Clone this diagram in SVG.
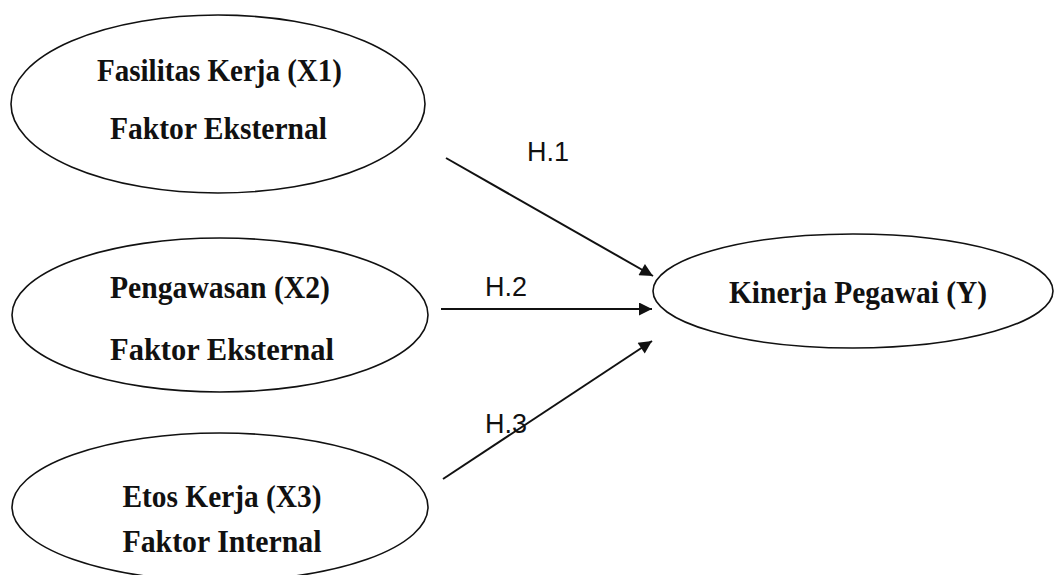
<svg xmlns="http://www.w3.org/2000/svg" width="1054" height="575" viewBox="0 0 1054 575">
<style>
.node ellipse{fill:none;stroke:#111;stroke-width:1.6}
.t{font-family:"Liberation Serif","Times New Roman",serif;font-weight:bold;font-size:31px;fill:#111;text-anchor:middle}
.h{font-family:"Liberation Sans",Arial,sans-serif;font-size:27px;fill:#111}
.edge{stroke:#111;stroke-width:2;fill:none;marker-end:url(#arr)}
</style>
<defs>
<marker id="arr" viewBox="0 0 10 10" refX="10" refY="5" markerWidth="8" markerHeight="6.5" markerUnits="strokeWidth" orient="auto">
<path d="M0,0 L10,5 L0,10 Z" fill="#111"/>
</marker>
</defs>
<rect width="1054" height="575" fill="#fff"/>
<g id="x1" class="node">
<ellipse cx="218" cy="104" rx="207" ry="89"/>
<text class="t" x="219.5" y="81" textLength="245" lengthAdjust="spacingAndGlyphs">Fasilitas Kerja (X1)</text>
<text class="t" x="218.5" y="139" textLength="217" lengthAdjust="spacingAndGlyphs">Faktor Eksternal</text>
</g>
<g id="x2" class="node">
<ellipse cx="220" cy="315" rx="208" ry="77"/>
<text class="t" x="220" y="298" textLength="220" lengthAdjust="spacingAndGlyphs">Pengawasan (X2)</text>
<text class="t" x="222" y="360" textLength="224" lengthAdjust="spacingAndGlyphs">Faktor Eksternal</text>
</g>
<g id="x3" class="node">
<ellipse cx="220" cy="507" rx="208" ry="74"/>
<text class="t" x="222" y="507" textLength="199" lengthAdjust="spacingAndGlyphs">Etos Kerja (X3)</text>
<text class="t" x="222" y="552" textLength="199" lengthAdjust="spacingAndGlyphs">Faktor Internal</text>
</g>
<g id="y" class="node">
<ellipse cx="853" cy="291" rx="200" ry="57"/>
<text class="t" x="858" y="303" textLength="258" lengthAdjust="spacingAndGlyphs">Kinerja Pegawai (Y)</text>
</g>
<g id="connectors">
<line class="edge" x1="446" y1="158" x2="653" y2="276"/>
<line class="edge" x1="441" y1="309" x2="652" y2="309"/>
<line class="edge" x1="443" y1="479" x2="652" y2="341"/>
<text class="h" x="527" y="161">H.1</text>
<text class="h" x="485" y="296">H.2</text>
<text class="h" x="485" y="433">H.3</text>
</g>
</svg>
